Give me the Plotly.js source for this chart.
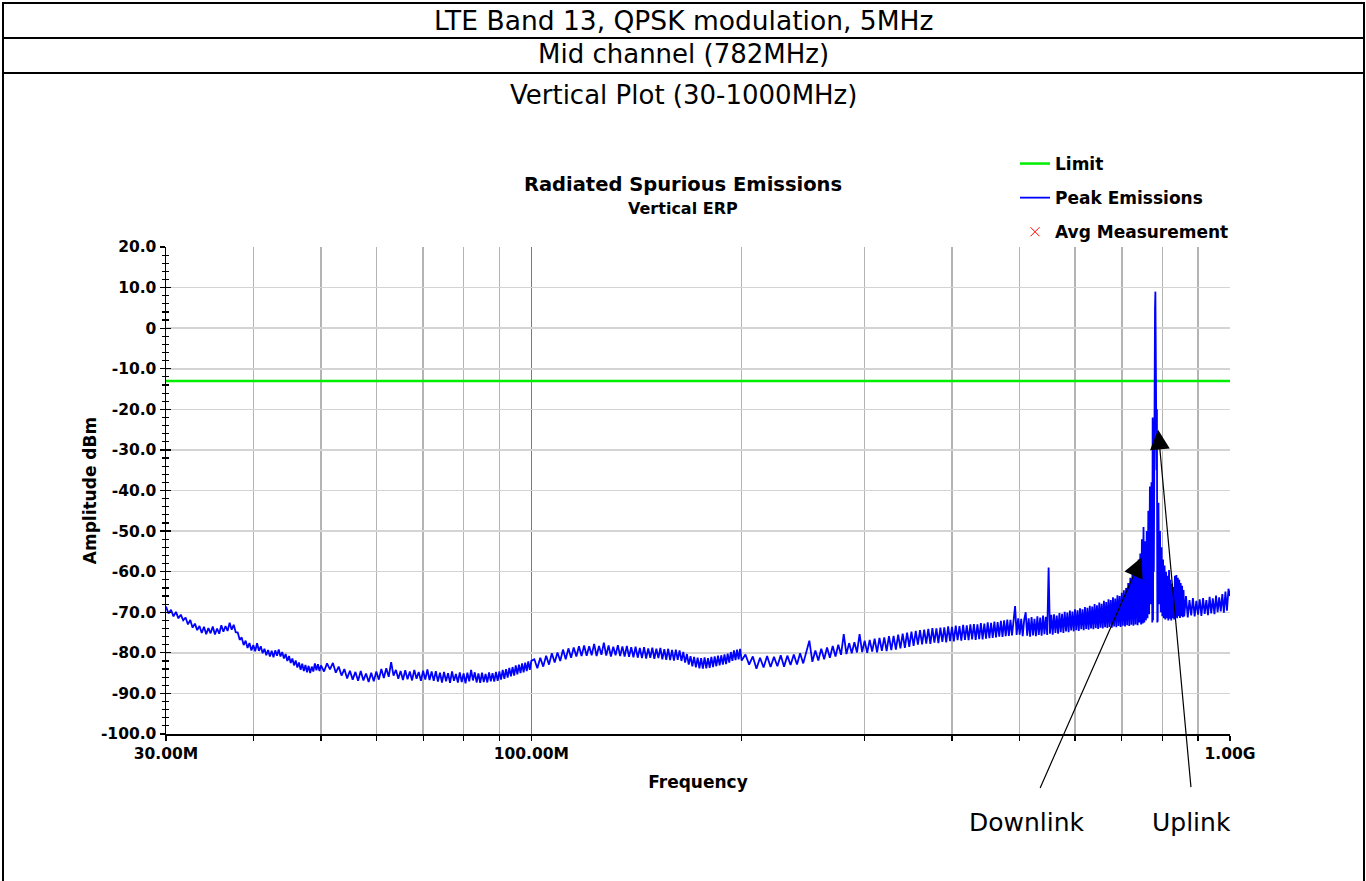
<!DOCTYPE html>
<html><head><meta charset="utf-8">
<script src="https://cdn.plot.ly/plotly-3.0.1.min.js"></script>
<style>html,body{margin:0;padding:0;background:#fff}#chart{width:1366px;height:881px}</style>
</head><body><div id="chart"></div>
<script>
// ---------------- DATA ----------------
const headerLines = ['LTE Band 13, QPSK modulation, 5MHz', 'Mid channel (782MHz)', 'Vertical Plot (30-1000MHz)'];
const chartTitle = 'Radiated Spurious Emissions';
const chartSubtitle = 'Vertical ERP';
const xAxisTitle = 'Frequency';
const yAxisTitle = 'Amplitude dBm';
const seriesNames = ['Limit', 'Peak Emissions', 'Avg Measurement'];

const xTickVals = [30, 100, 1000];
const xTickText = ['30.00M', '100.00M', '1.00G'];
const xMinorVals = [40, 50, 60, 70, 80, 90, 200, 300, 400, 500, 600, 700, 800, 900];
const yTickVals = [-100, -90, -80, -70, -60, -50, -40, -30, -20, -10, 0, 10, 20];
const yTickText = ['-100.0', '-90.0', '-80.0', '-70.0', '-60.0', '-50.0', '-40.0', '-30.0', '-20.0', '-10.0', '0', '10.0', '20.0'];

const limitFreqMHz = [30, 1000];
const limitDbm = [-13, -13];

// no average measurements are plotted (legend entry only)
const avgFreqMHz = [null];
const avgDbm = [null];

// Peak emissions trace: [MHz, dBm]
const segA = [[30,-68.6],[30.25,-70.3],[30.5,-69.4],[30.75,-71.0],[31,-69.9],[31.25,-71.5],[31.5,-70.6],[31.75,-72.0],
  [32,-71.3],[32.25,-73.0],[32.5,-71.9],[32.75,-73.8],[33,-72.8],[33.25,-74.4],[33.5,-73.4],[33.75,-75.1],
  [34,-73.6],[34.25,-75.4],[34.5,-73.9],[34.75,-75.2],[35,-73.5],[35.25,-75.5],[35.5,-74.0],[35.75,-75.3],
  [36,-73.2],[36.25,-74.8],[36.5,-73.4],[36.75,-74.6],[37,-72.6],[37.25,-74.3],[37.5,-73.1],[37.75,-74.9],
  [38,-75.0],[38.25,-76.8],[38.5,-76.2],[38.75,-78.1],[39,-77.0],[39.25,-78.8],[39.5,-77.6],[39.75,-79.4],
  [40,-78.1],[40.25,-79.6],[40.5,-77.6],[40.75,-79.5],[41,-78.4],[41.25,-80.1],[41.5,-79.0],[41.75,-80.6],
  [42,-79.3],[42.25,-80.9],[42.5,-79.5],[42.75,-81.1],[43,-79.4],[43.25,-80.7],[43.5,-79.2],[43.75,-80.9],
  [44,-79.8],[44.25,-81.4],[44.5,-80.3],[44.75,-82.0],[45,-80.8],[45.25,-82.5],[45.5,-81.4],[45.75,-83.1],
  [46,-81.9],[46.25,-83.6],[46.5,-82.4],[46.75,-84.2],[47,-82.7],[47.25,-84.5],[47.5,-83.0],[47.75,-84.8],
  [48,-83.2],[48.25,-85.0],[48.5,-83.4],[48.75,-84.6],[49,-82.6],[49.25,-84.3],[49.5,-82.8],[49.75,-84.5],[50,-83.1]];

const segB = [[50.5,-84.6],[51,-82.6],[51.5,-84.1],[52,-82.5],[52.5,-84.9],[53,-83.4],[53.5,-85.6],[54,-84.0],[54.5,-86.3],[55,-84.4],
  [55.5,-86.6],[56,-84.7],[56.5,-86.9],[57,-84.5],[57.5,-86.8],[58,-85.1],[58.5,-87.2],[59,-84.9],[59.5,-87.0],[60,-84.6],
  [60.5,-86.6],[61,-84.0],[61.5,-86.2],[62,-83.8],[62.5,-85.9],[63,-82.3],[63.5,-85.6],[64,-84.2],[64.5,-86.4],[65,-84.5],
  [65.5,-86.7],[66,-84.3],[66.5,-86.5],[67,-84.6],[67.5,-86.8],[68,-84.2],[68.5,-86.4],[69,-84.7],[69.5,-86.9],[70,-84.4],
  [70.5,-86.6],[71,-84.1],[71.5,-86.7],[72,-84.6],[72.5,-86.9],[73,-84.5],[73.5,-87.1],[74,-84.9],[74.5,-87.3],[75,-84.7],
  [75.5,-87.0],[76,-85.0],[76.5,-87.4],[77,-84.6],[77.5,-86.9],[78,-85.2],[78.5,-87.3],[79,-84.8],[79.5,-87.2],[80,-85.1],
  [80.5,-87.5],[81,-84.9],[81.5,-87.0],[82,-84.2],[82.5,-86.8],[83,-84.8],[83.5,-87.3],[84,-85.1],[84.5,-87.4],[85,-84.9],
  [85.5,-87.2],[86,-85.2],[86.5,-87.3],[87,-84.8],[87.5,-87.0],[88,-85.0],[88.5,-87.1],[89,-84.7],[89.5,-86.9],[90,-84.6],
  [90.5,-86.6],[91,-84.2],[91.5,-86.4],[92,-84.0],[92.5,-86.1],[93,-83.7],[93.5,-85.8],[94,-83.5],[94.5,-85.6],[95,-83.1],
  [95.5,-85.3],[96,-82.9],[96.5,-85.0],[97,-82.6],[97.5,-84.8],[98,-82.4],[98.5,-84.5],[99,-82.1],[99.5,-84.2],[100,-82.0]];

const segC = [[101,-81.6],[102,-83.8],[103,-81.2],[104,-83.4],[105,-80.7],[106,-82.9],[107,-80.1],[108,-82.4],[109,-79.9],[110,-82.0],
  [111,-79.2],[112,-81.6],[113,-78.9],[114,-81.2],[115,-78.7],[116,-80.9],[117,-78.4],[118,-80.8],[119,-78.2],[120,-80.7],
  [121,-78.4],[122,-80.6],[123,-77.8],[124,-80.8],[125,-78.3],[126,-80.5],[127,-77.5],[128,-80.7],[129,-78.2],[130,-80.9],
  [131,-78.5],[132,-80.6],[133,-78.1],[134,-80.8],[135,-78.4],[136,-80.9],[137,-78.3],[138,-81.0],[139,-78.6],[140,-81.1],
  [141,-78.5],[142,-81.2],[143,-78.8],[144,-81.3],[145,-78.6],[146,-81.4],[147,-78.9],[148,-81.2],[149,-78.7],[150,-81.5],
  [151,-79.0],[152,-81.3],[153,-78.8],[154,-81.6],[155,-79.1],[156,-81.7],[157,-79.0],[158,-81.8],[159,-79.3],[160,-81.9],
  [161,-79.2],[162,-81.7],[163,-79.4],[164,-82.0],[165,-79.8],[166,-82.4],[167,-80.3],[168,-82.9],[169,-80.8],[170,-83.3],
  [171,-81.0],[172,-83.6],[173,-81.2],[174,-83.8],[175,-81.3],[176,-83.9],[177,-81.1],[178,-83.8],[179,-81.3],[180,-83.7],
  [181,-81.0],[182,-83.5],[183,-80.9],[184,-83.3],[185,-80.7],[186,-83.1],[187,-80.6],[188,-82.9],[189,-80.4],[190,-82.8],
  [191,-80.2],[192,-82.4],[193,-79.8],[194,-82.0],[195,-79.4],[196,-81.8],[197,-79.2],[198,-81.6],[199,-79.0],[200,-81.9]];

const segD = [[202.5,-80.4],[205,-82.9],[207.5,-80.9],[210,-83.9],[212.5,-81.2],[215,-83.6],[217.5,-80.8],[220,-83.5],
  [222.5,-81.0],[225,-83.3],[227.5,-80.6],[230,-83.4],[232.5,-80.7],[235,-83.0],[237.5,-80.4],[240,-82.9],
  [242.5,-80.1],[245,-82.6],[247.5,-79.8],[250,-77.0],[252.5,-82.2],[255,-79.4],[257.5,-81.9],[260,-79.0],
  [262.5,-81.6],[265,-78.7],[267.5,-81.2],[270,-78.3],[272.5,-80.9],[275,-78.0],[277.5,-80.5],[280,-75.4],
  [282.5,-80.3],[285,-77.6],[287.5,-80.1],[290,-77.4],[292.5,-79.9],[295,-75.4],[297.5,-79.8],[300,-77.0],
  [302.5,-80.0],[305,-76.8],[307.5,-79.7],[310,-76.5],[312.5,-79.9],[315,-76.3],[317.5,-79.5],[320,-76.2],
  [322.5,-79.6],[325,-75.9],[327.5,-79.3],[330,-75.8],[332.5,-79.2],[335,-75.5],[337.5,-78.9],[340,-75.3],
  [342.5,-78.8],[345,-75.0],[347.5,-78.5],[350,-74.8],[352.5,-78.3],[355,-74.6],[357.5,-78.0],[360,-74.4],
  [362.5,-77.9],[365,-74.3],[367.5,-77.7],[370,-74.1],[372.5,-77.8],[375,-73.9],[377.5,-77.5],[380,-74.0],
  [382.5,-77.6],[385,-73.8],[387.5,-77.3],[390,-73.7],[392.5,-77.4],[395,-73.5],[397.5,-77.1],[400,-73.6],
  [402.5,-77.2],[405,-73.3],[407.5,-76.9],[410,-73.4],[412.5,-77.0],[415,-73.1],[417.5,-76.8],[420,-73.2],
  [422.5,-76.9],[425,-73.0],[427.5,-76.7],[430,-72.9],[432.5,-76.8],[435,-73.0],[437.5,-76.6],[440,-72.7],
  [442.5,-76.7],[445,-72.8],[447.5,-76.5],[450,-72.5],[452.5,-76.4],[455,-72.6],[457.5,-76.3],[460,-72.3],
  [462.5,-76.2],[465,-72.4],[467.5,-76.0],[470,-72.1],[472.5,-76.1],[475,-72.0],[477.5,-75.9],[480,-71.8],
  [482.5,-75.8],[485,-71.9],[487.5,-75.7],[490,-71.6],[492.5,-68.5],[495,-75.6],[497.5,-71.5],[500,-75.5]];

const segE = [[502.5,-71.6],[505,-75.9],[507.5,-71.8],[510,-70.0],[512.5,-75.8],[515,-71.5],[517.5,-76.0],[520,-71.2],
  [522.5,-75.7],[525,-71.6],[527.5,-75.9],[530,-71.0],[532.5,-75.6],[535,-71.3],[537.5,-75.8],[540,-70.8],
  [542.5,-75.4],[545,-71.1],[547.5,-75.6],[550,-59.0],[552.5,-75.3],[555,-70.6],[557.5,-75.5],[560,-70.5],
  [562.5,-75.1],[565,-70.8],[567.5,-75.3],[570,-70.2],[572.5,-74.9],[575,-70.4],[577.5,-75.1],[580,-69.9],
  [582.5,-74.7],[585,-70.1],[587.5,-74.9],[590,-69.6],[592.5,-74.5],[595,-69.8],[597.5,-74.7],[600,-69.3],
  [602.5,-74.4],[605,-69.5],[607.5,-74.6],[610,-69.0],[612.5,-74.2],[615,-69.3],[617.5,-74.4],[620,-68.7],
  [622.5,-74.1],[625,-68.9],[627.5,-74.3],[630,-68.4],[632.5,-74.0],[635,-68.6],[637.5,-74.2],[640,-68.0],
  [642.5,-73.9],[645,-68.3],[647.5,-74.1],[650,-67.6],[652.5,-73.8],[655,-67.9],[657.5,-74.0],[660,-67.2],
  [662.5,-73.7],[665,-67.5],[667.5,-73.9],[670,-66.8],[672.5,-73.6],[675,-67.0],[677.5,-73.8],[680,-66.3],
  [682.5,-73.5],[685,-66.6],[687.5,-73.7],[690,-65.8],[692.5,-73.4],[695,-66.0],[697.5,-73.6],[700,-65.2],
  [702.5,-73.3],[705,-64.6],[707.5,-73.5],[710,-64.0],[712.5,-73.2],[715,-62.8],[717.5,-73.4],[720,-61.5],
  [722.5,-73.1],[725,-60.6],[727.5,-73.3],[730,-59.5],[732.5,-73.0],[735,-58.2],[737.5,-73.2],[740,-57.0]];

const segF = [[742,-72.5],[744,-55.5],[746,-73.0],[748,-52.0],[750,-72.8],[752,-49.0],[754,-72.5],[756,-52.5],
  [758,-72.0],[760,-50.0],[762,-71.5],[764,-45.0],[766,-70.5],[768,-39.0],[770,-68.0],[772,-38.0],
  [774,-72.5],[775,-22.0],[776,-72.0],[777,-30.0],[778,-60.0],[779,-12.0],[780,-40.0],[781,5.0],[782,9.0],
  [783,-10.0],[784,0.0],[785,-35.0],[786,-20.0],[787,-72.5],[788,-72.0],[790,-43.0],[792,-68.0],[794,-50.0],
  [796,-70.0],[798,-54.0],[800,-71.0]];

const segG = [[802,-57.0],[804,-71.5],[806,-58.5],[808,-71.8],[810,-60.0],[812,-71.5],[814,-61.0],[816,-72.0],
  [818,-59.6],[820,-71.6],[822,-62.0],[824,-72.0],[826,-63.0],[828,-71.5],[830,-63.8],[832,-71.8],
  [834,-61.0],[836,-71.2],[838,-60.8],[840,-71.5],[842,-61.5],[844,-71.0],[846,-62.0],[848,-71.4],
  [850,-62.8],[852,-71.0],[854,-63.5],[856,-71.2],[858,-64.5],[860,-71.0],[865,-66.0],[870,-71.3],
  [875,-67.0],[880,-70.8],[885,-66.5],[890,-71.0],[895,-67.2],[900,-70.6],[905,-66.8],[910,-70.9],
  [915,-66.5],[920,-70.4],[925,-67.0],[930,-70.7],[935,-66.2],[940,-70.3],[945,-66.6],[950,-70.5],
  [955,-65.9],[960,-70.0],[965,-66.3],[970,-69.8],[975,-65.5],[980,-70.1],[985,-64.9],[990,-69.6],
  [995,-64.2],[1000,-66.0]];

const peakPoints = [].concat(segA, segB, segC, segD, segE, segF, segG);
const peakFreqMHz = peakPoints.map(p => p[0]);
const peakDbm = peakPoints.map(p => p[1]);

// arrow callouts: label and the point (MHz, dBm) each arrow points at
const calloutLabels = ['Downlink', 'Uplink'];
const downlinkTip = [747, -56.5];
const uplinkTip = [789, -25];

// ---------------- LAYOUT HELPERS ----------------
const FONT = 'DejaVu Sans, Verdana, sans-serif';
const FW = 1366, FH = 881;
const PL = 166, PR = 1230, PT = 247, PB = 734;
const pw = PR - PL, ph = PB - PT;
const px = x => (x - PL) / pw;
const py = y => (PB - y) / ph;

const traces = [
  {x: limitFreqMHz, y: limitDbm, name: seriesNames[0], type: 'scatter', mode: 'lines',
   line: {color: '#00ee00', width: 2.5}},
  {x: peakFreqMHz, y: peakDbm, name: seriesNames[1], type: 'scatter', mode: 'lines',
   line: {color: '#0000ff', width: 1.8}},
  {x: avgFreqMHz, y: avgDbm, name: seriesNames[2], type: 'scatter', mode: 'markers', yaxis: 'y2',
   marker: {symbol: 'x-thin-open', color: '#ff0000', size: 9, line: {color: '#ff0000', width: 1}}}
];
traces.forEach((t, i) => { t.legendgroup = 'g' + i; });

const bold = (s) => ({family: FONT, size: s, color: '#000', weight: 'bold'});

const annotations = [];
headerLines.forEach((t, i) => {
  const yc = [21, 54, 95][i];
  annotations.push({text: t, xref: 'paper', yref: 'paper', x: px(683), y: py(yc),
    xanchor: 'center', yanchor: 'middle', showarrow: false,
    font: {family: FONT, size: i === 0 ? 26.5 : 26, color: '#000'}});
});
annotations.push({text: chartSubtitle, xref: 'paper', yref: 'paper', x: px(683), y: py(208),
  xanchor: 'center', yanchor: 'middle', showarrow: false, font: bold(16)});
// callout labels
[[1027, 822], [1191, 822]].forEach((p, i) => {
  annotations.push({text: calloutLabels[i], xref: 'paper', yref: 'paper', x: px(p[0]), y: py(p[1]),
    xanchor: 'center', yanchor: 'middle', showarrow: false,
    font: {family: FONT, size: 25, color: '#000'}});
});
// arrows
[[downlinkTip, -102, 232], [uplinkTip, 33, 359]].forEach(a => {
  annotations.push({text: '', x: Math.log10(a[0][0]), y: a[0][1], xref: 'x', yref: 'y',
    showarrow: true, arrowhead: 2, arrowsize: 3.3, arrowwidth: 1.2, arrowcolor: '#000',
    ax: a[1], ay: a[2], axref: 'pixel', ayref: 'pixel', standoff: 0});
});

const shapes = [
  {type: 'rect', xref: 'paper', yref: 'paper', x0: px(3), x1: px(1364), y0: py(3), y1: py(895),
   line: {color: '#000', width: 2}, fillcolor: 'rgba(0,0,0,0)', layer: 'above'},
  {type: 'line', xref: 'paper', yref: 'paper', x0: px(3), x1: px(1364), y0: py(38), y1: py(38),
   line: {color: '#000', width: 2}},
  {type: 'line', xref: 'paper', yref: 'paper', x0: px(3), x1: px(1364), y0: py(73), y1: py(73),
   line: {color: '#000', width: 2}}
];

const layout = {
  width: FW, height: FH,
  margin: {l: PL, r: FW - PR, t: PT, b: FH - PB, pad: 0, autoexpand: false},
  paper_bgcolor: '#ffffff', plot_bgcolor: '#ffffff',
  font: {family: FONT, color: '#000'},
  hovermode: false,
  showlegend: true,
  title: {text: chartTitle, font: bold(19.5), x: 0.5, xref: 'container', xanchor: 'center',
          y: 1 - 184 / FH, yref: 'container', yanchor: 'middle', automargin: false},
  legend: {x: px(1015), xref: 'paper', xanchor: 'left', y: py(146), yref: 'paper', yanchor: 'top',
           font: bold(17), bgcolor: 'rgba(0,0,0,0)', tracegroupgap: 9, itemwidth: 30, traceorder: 'grouped'},
  xaxis: {type: 'log', range: [Math.log10(30), Math.log10(1000)], automargin: false, fixedrange: true,
          tickmode: 'array', tickvals: xTickVals, ticktext: xTickText,
          ticks: 'outside', ticklen: 5, tickwidth: 1.3, tickcolor: '#000',
          showline: true, linecolor: '#000', linewidth: 1.5, zeroline: false,
          showgrid: true, gridcolor: '#7a7a7a', gridwidth: 1.5,
          tickfont: bold(15.5),
          minor: {tickmode: 'array', tickvals: xMinorVals, ticks: 'outside', ticklen: 5, tickwidth: 1.2, tickcolor: '#000',
                  showgrid: true, gridcolor: '#b4b4b4', gridwidth: 1.5},
          title: {text: xAxisTitle, font: bold(17), standoff: 14}},
  yaxis: {range: [-100, 20], automargin: false, fixedrange: true,
          tickmode: 'array', tickvals: yTickVals, ticktext: yTickText,
          ticks: 'outside', ticklen: 5, tickwidth: 1.3, tickcolor: '#000',
          showline: true, linecolor: '#000', linewidth: 1.5, zeroline: false,
          showgrid: true, gridcolor: '#d4d4d4', gridwidth: 1.5,
          tickfont: bold(15.5),
          minor: {tickmode: 'linear', tick0: 0, dtick: 2, ticks: 'outside', ticklen: 3, tickwidth: 1.2, tickcolor: '#000', showgrid: false},
          title: {text: yAxisTitle, font: bold(17), standoff: 0}},
  yaxis2: {overlaying: 'y', anchor: 'x', side: 'left', range: [-100, 20], fixedrange: true,
           tickmode: 'array', tickvals: yTickVals, showticklabels: false,
           ticks: 'inside', ticklen: 5, tickwidth: 1.3, tickcolor: '#000',
           minor: {tickmode: 'linear', tick0: 0, dtick: 2, ticks: 'inside', ticklen: 3, tickwidth: 1.2, tickcolor: '#000', showgrid: false},
           showgrid: false, showline: false, zeroline: false},
  annotations: annotations,
  shapes: shapes
};

Plotly.newPlot('chart', traces, layout, {displayModeBar: false, staticPlot: true});
</script></body></html>
